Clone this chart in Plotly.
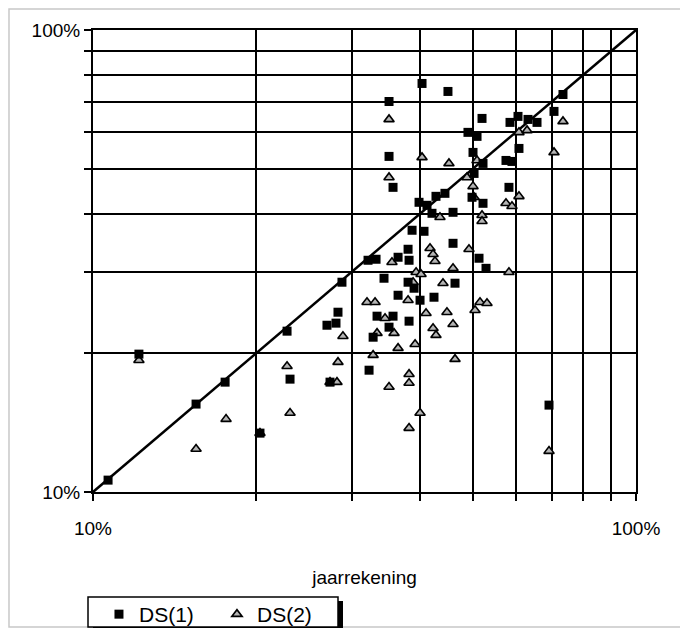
import plotly.graph_objects as go

# DS(1) values (%), x = jaarrekening, y = DS(1)
ds1_x = [10.66, 12.15, 15.48, 17.51, 20.30, 22.77, 23.06, 28.74, 28.26, 28.02,
         26.97, 32.24, 27.32, 32.80, 33.35, 35.69, 35.09, 38.20, 32.10, 33.21,
         34.35, 36.46, 38.04, 39.02, 40.02, 42.46, 46.42, 36.46, 38.20, 38.04,
         46.03, 38.69, 40.70, 51.39, 52.94, 39.85, 41.22, 42.10, 46.03, 42.82,
         44.48, 49.89, 52.27, 50.32, 58.35, 52.27, 50.10, 57.62, 59.10, 60.88,
         49.04, 50.96, 52.05, 35.09, 35.69, 35.09, 40.36, 45.05, 58.61, 60.63,
         63.26, 65.72, 70.63, 73.37, 69.15]
ds1_y = [10.61, 19.88, 15.50, 17.29, 13.41, 22.29, 17.55, 28.45, 24.50, 23.20,
         22.96, 18.35, 17.29, 21.63, 24.02, 24.02, 22.74, 23.43, 31.74, 31.90,
         29.02, 26.66, 28.45, 27.61, 26.01, 26.40, 28.31, 32.22, 31.74, 33.53,
         34.54, 36.86, 36.67, 32.06, 30.49, 42.37, 41.74, 40.11, 40.31, 43.65,
         44.31, 43.44, 42.16, 48.93, 45.65, 51.43, 54.33, 52.20, 51.94, 55.42,
         60.04, 58.85, 64.36, 53.26, 45.65, 70.03, 76.61, 73.62, 63.10, 65.01,
         64.04, 63.10, 66.65, 72.51, 15.42]

# DS(2) values (%)
ds2_x = [12.15, 15.48, 17.58, 20.30, 22.77, 23.06, 28.86, 28.26, 27.32, 28.14,
         31.96, 33.07, 32.80, 34.50, 33.35, 35.84, 36.46, 39.19, 38.20, 38.20,
         35.09, 40.02, 38.20, 35.53, 39.36, 40.19, 38.86, 38.04, 41.05, 44.86,
         46.03, 42.29, 42.82, 46.42, 50.53, 51.61, 53.16, 44.11, 46.03, 58.35,
         41.75, 42.29, 42.64, 49.25, 43.55, 52.05, 52.05, 50.32, 60.88, 57.62,
         59.10, 48.84, 50.10, 50.96, 45.24, 40.36, 35.09, 35.09, 60.88, 63.00,
         73.37, 70.63, 69.15]
ds2_y = [19.29, 12.39, 14.38, 13.41, 18.72, 14.82, 21.74, 19.10, 17.29, 17.29,
         25.75, 25.75, 19.78, 23.78, 22.07, 22.07, 20.48, 20.89, 17.99, 17.21,
         16.87, 14.82, 13.75, 31.43, 29.89, 29.60, 28.45, 26.01, 24.38, 24.50,
         23.08, 22.62, 21.85, 19.39, 24.74, 25.75, 25.62, 28.31, 30.49, 29.89,
         33.70, 32.71, 31.59, 33.53, 39.32, 39.71, 38.54, 43.44, 43.65, 42.16,
         41.53, 47.96, 45.87, 52.20, 51.43, 52.99, 64.04, 47.96, 60.04, 60.63,
         63.41, 54.33, 12.26]

# reference line y = x
diag = [10, 100]

grid_vals = [10, 20, 30, 40, 50, 60, 70, 80, 90, 100]
grid_text = ["10%", "", "", "", "", "", "", "", "", "100%"]

FONT = "Liberation Sans, Arial, sans-serif"
FS = 19

fig = go.Figure()
fig.add_trace(go.Scatter(x=diag, y=diag, mode="lines",
                         line=dict(color="black", width=2.5),
                         showlegend=False, hoverinfo="skip"))
fig.add_trace(go.Scatter(x=ds2_x, y=ds2_y, mode="markers", name="DS(2)",
                         marker=dict(symbol="triangle-up", size=9,
                                     color="#b4b4b4",
                                     line=dict(color="black", width=1.6))))
fig.add_trace(go.Scatter(x=ds1_x, y=ds1_y, mode="markers", name="DS(1)",
                         marker=dict(symbol="square", size=9, color="black",
                                     line=dict(color="black", width=0))))

axis_common = dict(
    type="log", tickvals=grid_vals, ticktext=grid_text,
    showgrid=True, gridcolor="black", gridwidth=2,
    showline=True, linecolor="black", linewidth=2, mirror=True,
    ticks="outside", ticklen=7, tickwidth=2, tickcolor="black",
    tickfont=dict(family=FONT, size=FS, color="black"),
    zeroline=False, automargin=False,
)

# page body has an 8px margin, so the figure is 680x620 placed at (8, 8);
# plot area then sits at x 93..636, y 30..492 in the window
fig.update_layout(
    width=680, height=620,
    margin=dict(l=85, r=52, t=22, b=136, autoexpand=False),
    paper_bgcolor="white", plot_bgcolor="white",
    font=dict(family=FONT, size=FS, color="black"),
    xaxis=dict(range=[1, 2], ticklabelstandoff=11,
               title=dict(text="jaarrekening", standoff=33,
                          font=dict(family=FONT, size=FS)),
               **axis_common),
    yaxis=dict(range=[1, 2], **axis_common),
    legend=dict(orientation="h", x=0.011, y=-0.2208, xanchor="left",
                yanchor="top", borderwidth=0,
                bgcolor="rgba(0,0,0,0)", traceorder="reversed",
                entrywidth=73, entrywidthmode="pixels",
                font=dict(family=FONT, size=21)),
    shapes=[
        # outer light frame
        dict(type="rect", xref="paper", yref="paper",
             x0=-0.1547, x1=1.0829, y0=-0.2922, y1=1.0455,
             line=dict(color="#c8c8c8", width=1.5), layer="below"),
        # legend drop shadow
        dict(type="rect", xref="paper", yref="paper",
             x0=0.0, x1=0.4604, y0=-0.3030, y1=-0.2359,
             fillcolor="black", line=dict(width=0), layer="above"),
        # legend box
        dict(type="rect", xref="paper", yref="paper",
             x0=-0.0092, x1=0.4512, y0=-0.2922, y1=-0.2273,
             fillcolor="white", line=dict(color="black", width=1.5),
             layer="above"),
    ],
)

fig.write_html("out.html")
